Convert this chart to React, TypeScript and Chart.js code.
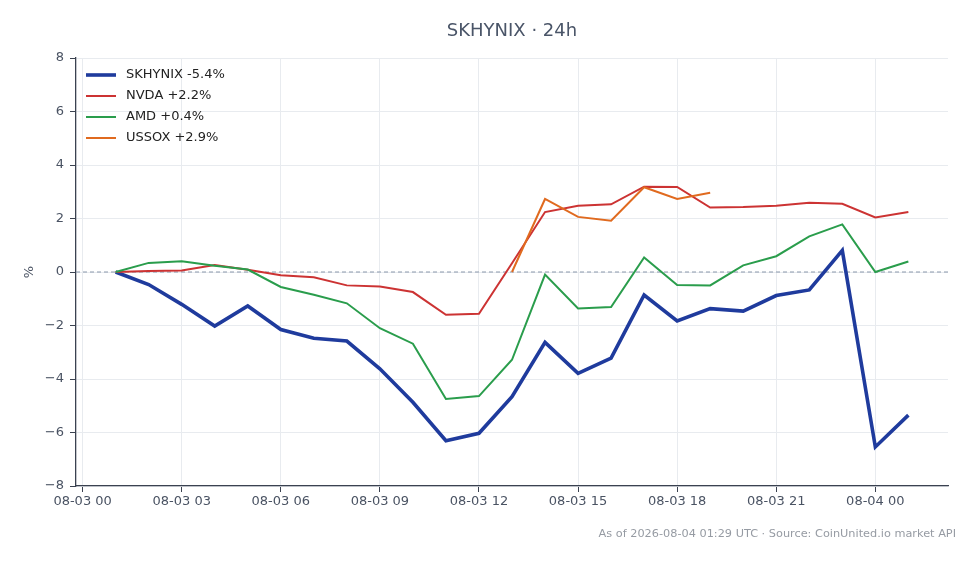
import { useEffect, useRef } from "react";
import { Chart, registerables } from "chart.js";

Chart.register(...registerables);

const FONT = "'DejaVu Sans', sans-serif";

// hours after 08-03 00:00 UTC
const hours = [1, 2, 3, 4, 5, 6, 7, 8, 9, 10, 11, 12, 13, 14, 15, 16, 17, 18, 19, 20, 21, 22, 23, 24, 25];
const tickHours = [0, 3, 6, 9, 12, 15, 18, 21, 24];
const tickLabels = ["08-03 00", "08-03 03", "08-03 06", "08-03 09", "08-03 12", "08-03 15", "08-03 18", "08-03 21", "08-04 00"];
const yTicks = [-8, -6, -4, -2, 0, 2, 4, 6, 8];

const skhynix = [0, -0.47, -1.21, -2.02, -1.27, -2.15, -2.48, -2.58, -3.62, -4.87, -6.31, -6.03, -4.66, -2.63, -3.79, -3.22, -0.86, -1.83, -1.37, -1.46, -0.88, -0.67, 0.81, -6.54, -5.35];
const nvda = [0, 0.04, 0.06, 0.26, 0.08, -0.12, -0.2, -0.5, -0.54, -0.75, -1.6, -1.56, 0.33, 2.24, 2.48, 2.53, 3.19, 3.18, 2.41, 2.43, 2.48, 2.59, 2.55, 2.04, 2.24];
const amd = [0, 0.34, 0.4, 0.23, 0.09, -0.56, -0.85, -1.17, -2.1, -2.68, -4.75, -4.64, -3.28, -0.1, -1.36, -1.31, 0.54, -0.49, -0.5, 0.25, 0.59, 1.33, 1.78, 0.0, 0.39];
const ussox = [null, null, null, null, null, null, null, null, null, null, null, null, 0, 2.73, 2.06, 1.92, 3.17, 2.73, 2.96, null, null, null, null, null, null];

const series = [
  { label: "SKHYNIX -5.4%", values: skhynix, color: "#1f3b9d", width: 3.6, order: 3 },
  { label: "NVDA +2.2%", values: nvda, color: "#cc3333", width: 2, order: 2 },
  { label: "AMD +0.4%", values: amd, color: "#2a9d4c", width: 2, order: 1 },
  { label: "USSOX +2.9%", values: ussox, color: "#e06a1f", width: 2, order: 0 },
];

const TITLE = "SKHYNIX · 24h";
const FOOTER = "As of 2026-08-04 01:29 UTC · Source: CoinUnited.io market API";

const tickColor = "#4a5363";
const gridColor = "#e8ebef";
const spineColor = "#3b4250";

const decorations = {
  id: "decorations",
  beforeDatasetsDraw(chart: Chart) {
    const { ctx, chartArea } = chart;
    const y0 = chart.scales.y.getPixelForValue(0);
    ctx.save();
    ctx.strokeStyle = "#8a98ab";
    ctx.lineWidth = 1;
    ctx.setLineDash([4, 3]);
    ctx.beginPath();
    ctx.moveTo(chartArea.left, y0);
    ctx.lineTo(chartArea.right, y0);
    ctx.stroke();
    ctx.restore();
  },
  afterDraw(chart: Chart) {
    const { ctx, chartArea } = chart;
    ctx.save();
    // title
    ctx.font = `18px ${FONT}`;
    ctx.fillStyle = "#4a5568";
    ctx.textAlign = "center";
    ctx.textBaseline = "middle";
    ctx.fillText(TITLE, (chartArea.left + chartArea.right) / 2, 31);

    // legend inside the plot
    ctx.font = `13px ${FONT}`;
    ctx.textAlign = "left";
    series.forEach((s, i) => {
      const y = chartArea.top + 17 + i * 21;
      ctx.strokeStyle = s.color;
      ctx.lineWidth = s.width;
      ctx.beginPath();
      ctx.moveTo(chartArea.left + 10, y);
      ctx.lineTo(chartArea.left + 40, y);
      ctx.stroke();
      ctx.fillStyle = "#222";
      ctx.fillText(s.label, chartArea.left + 50, y);
    });

    // footer
    ctx.font = `11.3px ${FONT}`;
    ctx.fillStyle = "#969ba3";
    ctx.textAlign = "right";
    ctx.fillText(FOOTER, 956, 534);
    ctx.restore();
  },
};

export default function App() {
  const canvasRef = useRef<HTMLCanvasElement | null>(null);

  useEffect(() => {
    const ctx = canvasRef.current?.getContext("2d");
    if (!ctx) return;

    const chart = new Chart(ctx, {
      type: "line",
      data: {
        datasets: series.map((s) => ({
          label: s.label,
          data: hours.map((h, i) => ({ x: h, y: s.values[i] })),
          borderColor: s.color,
          backgroundColor: s.color,
          borderWidth: s.width,
          pointRadius: 0,
          tension: 0,
          spanGaps: false,
          order: s.order,
        })),
      },
      options: {
        animation: false,
        responsive: false,
        layout: { padding: { top: 58, right: 32, left: 0, bottom: 0 } },
        plugins: {
          legend: { display: false },
          title: { display: false },
          tooltip: { enabled: false },
        },
        scales: {
          x: {
            type: "linear",
            min: -0.2,
            max: 26.2,
            afterBuildTicks: (s: any) => {
              s.ticks = tickHours.map((v) => ({ value: v }));
            },
            afterFit: (s: any) => {
              s.height = 78;
            },
            ticks: {
              callback: (_v: any, i: number) => tickLabels[i],
              font: { family: FONT, size: 13 },
              color: tickColor,
              padding: 2,
              maxRotation: 0,
              autoSkip: false,
            },
            grid: { color: gridColor, tickColor: spineColor, tickLength: 6 },
            border: { color: spineColor, width: 1.3 },
          },
          y: {
            min: -8,
            max: 8,
            afterBuildTicks: (s: any) => {
              s.ticks = yTicks.map((v) => ({ value: v }));
            },
            afterFit: (s: any) => {
              s.width = 76;
            },
            ticks: {
              callback: (v: any) => (Number(v) < 0 ? "\u2212" + Math.abs(Number(v)) : String(v)),
              font: { family: FONT, size: 13 },
              color: tickColor,
              padding: 6,
            },
            title: {
              display: true,
              text: "%",
              font: { family: FONT, size: 13 },
              color: tickColor,
              padding: { top: 22, bottom: 0 },
            },
            grid: { color: gridColor, tickColor: spineColor, tickLength: 6 },
            border: { color: spineColor, width: 1.3 },
          },
        },
      },
      plugins: [decorations],
    });

    return () => {
      chart.destroy();
    };
  }, []);

  return (
    <div style={{ position: "fixed", left: 0, top: 0, width: 980, height: 564, background: "#fff" }}>
      <canvas ref={canvasRef} width={980} height={564} />
    </div>
  );
}
